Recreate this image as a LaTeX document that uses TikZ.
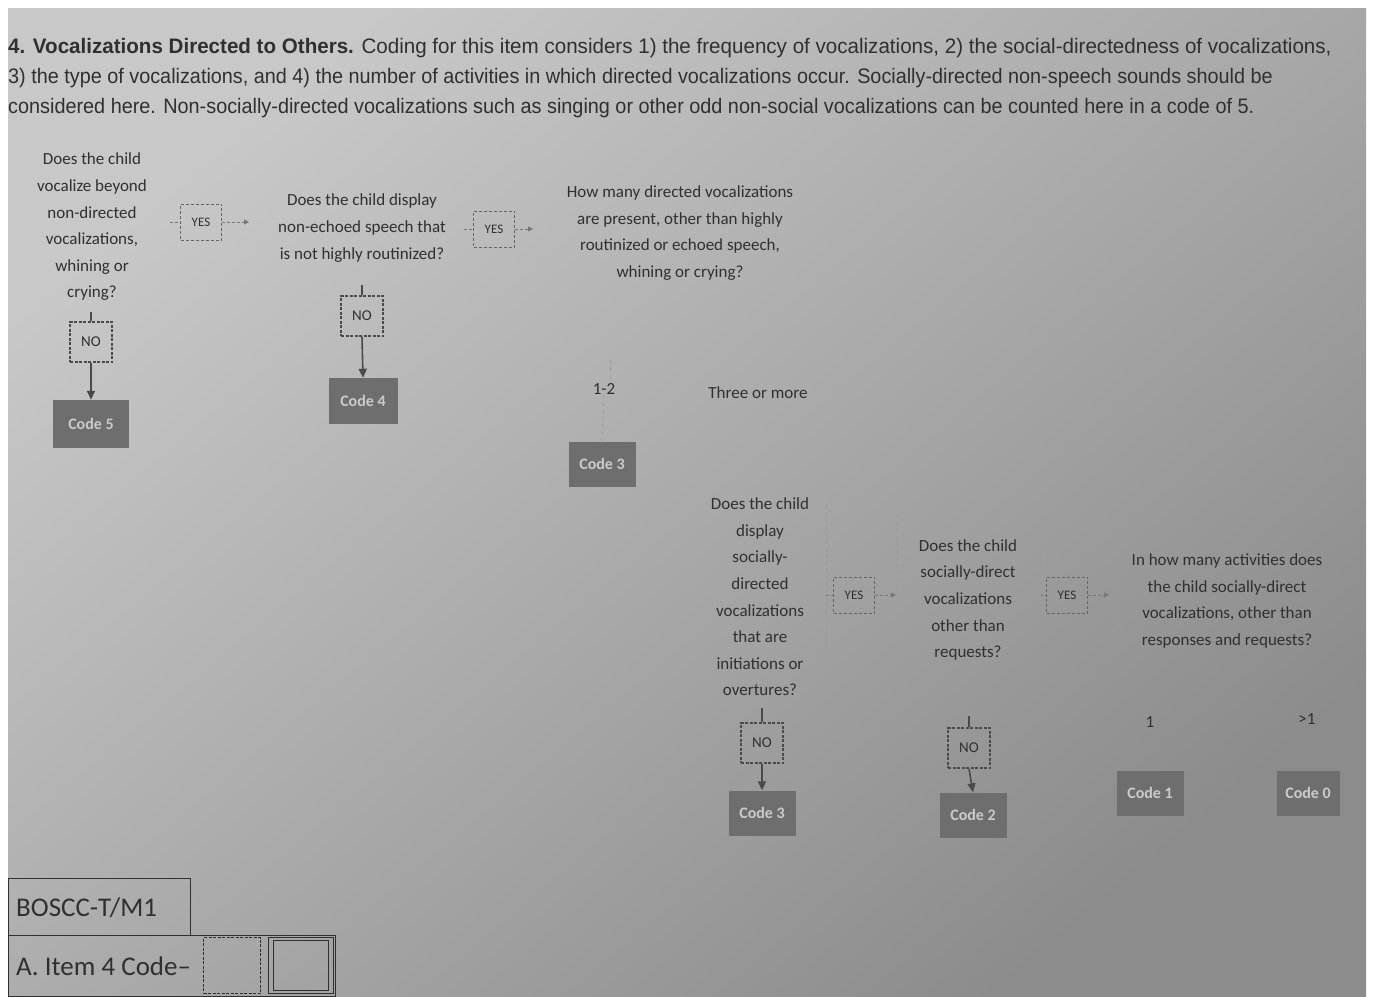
\documentclass[tikz,border=0pt]{standalone}
\usepackage{fontspec}
\setmainfont{Carlito}
\newfontfamily\hdrfont{Liberation Sans}
\usetikzlibrary{arrows.meta}
\definecolor{ink}{HTML}{303030}
\definecolor{boxline}{HTML}{4A4A4A}
\definecolor{codegray}{HTML}{6E6E6E}
\definecolor{codetext}{HTML}{CACACA}
\definecolor{faint}{HTML}{9A9A9A}
\definecolor{bgtop}{HTML}{C8C8C8}
\definecolor{bgbot}{HTML}{8C8C8C}
\begin{document}
\begin{tikzpicture}[x=1pt,y=-1pt,
  qtext/.style={align=center, font=\fontsize{17}{26.6}\selectfont, text=ink, inner sep=2pt},
  lbl/.style={font=\fontsize{17}{20}\selectfont, text=ink, inner sep=1pt},
  nobox/.style={draw=boxline, dash pattern=on 3pt off 1.5pt, line width=1.4pt, text=ink,
     font=\fontsize{15}{15}\selectfont, minimum width=42, minimum height=40, inner sep=0},
  yesbox/.style={draw=boxline!85, dash pattern=on 3pt off 2pt, line width=1pt, text=ink,
     font=\fontsize{13}{13}\selectfont, minimum width=41, minimum height=36, inner sep=0},
  codebox/.style={fill=codegray, text=codetext, font=\fontsize{16}{16}\selectfont\bfseries,
     minimum width=67, minimum height=45, inner sep=0},
  noline/.style={draw=boxline, line width=1.6pt},
  noarrow/.style={draw=boxline, line width=1.6pt, -{Triangle[length=9pt,width=8pt]}},
  yesline/.style={draw=boxline!75, line width=0.8pt, dash pattern=on 3pt off 2pt},
  yesarrow/.style={draw=boxline!75, line width=0.8pt, dash pattern=on 3pt off 2pt, -{Triangle[length=5pt,width=5pt]}},
  faintline/.style={draw=faint, line width=0.7pt, dash pattern=on 4pt off 3pt},
  hdr/.style={anchor=base west, inner sep=0, text=ink, font=\hdrfont\fontsize{21}{21}\selectfont}
]
\useasboundingbox (0,0) rectangle (1373,996);
\fill[white] (0,0) rectangle (1373,996);
\shade[top color=bgtop, bottom color=bgbot, shading angle=40] (8,8) rectangle (1366,996);

% header
\node[hdr] (h1) at (8,53) {\scalebox{0.98}[1]{\textbf{4. Vocalizations Directed to Others.} Coding for this item considers 1) the frequency of vocalizations, 2) the social-directedness of vocalizations,}};
\node[hdr] (h2) at (8,83) {\scalebox{0.944}[1]{3) the type of vocalizations, and 4) the number of activities in which directed vocalizations occur. Socially-directed non-speech sounds should be}};
\node[hdr] (h3) at (8,113) {\scalebox{0.945}[1]{considered here. Non-socially-directed vocalizations such as singing or other odd non-social vocalizations can be counted here in a code of 5.}};

% questions
\node[qtext] (q1) at (92,227) {Does the child\\vocalize beyond\\non-directed\\vocalizations,\\whining or\\crying?};
\node[qtext] (q2) at (362,228) {Does the child display\\non-echoed speech that\\is not highly routinized?};
\node[qtext] (q3) at (680,233) {How many directed vocalizations\\are present, other than highly\\routinized or echoed speech,\\whining or crying?};
\node[qtext] (q4) at (760,597) {Does the child\\display\\socially-\\directed\\vocalizations\\that are\\initiations or\\overtures?};
\node[qtext] (q5) at (968,600) {Does the child\\socially-direct\\vocalizations\\other than\\requests?};
\node[qtext] (q6) at (1227,601) {In how many activities does\\the child socially-direct\\vocalizations, other than\\responses and requests?};

% YES boxes
\node[yesbox] (y1) at (201,222) {YES};
\node[yesbox] (y2) at (494,229) {YES};
\node[yesbox] (y3) at (854,595) {YES};
\node[yesbox] (y4) at (1067,595) {YES};

% NO boxes
\node[nobox] (n1) at (91,342) {NO};
\node[nobox] (n2) at (362,316) {NO};
\node[nobox] (n3) at (762,743) {NO};
\node[nobox] (n4) at (969,748) {NO};

% code boxes
\node[codebox, minimum width=76, minimum height=48] (c5) at (91,424) {Code 5};
\node[codebox, minimum width=69, minimum height=46] (c4) at (363,401) {Code 4};
\node[codebox] (c3a) at (602,464) {Code 3};
\node[codebox] (c3b) at (762,813) {Code 3};
\node[codebox] (c2) at (973,815) {Code 2};
\node[codebox] (c1) at (1150,793) {Code 1};
\node[codebox, minimum width=63] (c0) at (1308,793) {Code 0};

% answer labels
\node[lbl] (a12) at (604,389) {1-2};
\node[lbl] (a3m) at (758,393) {Three or more};
\node[lbl] (a1) at (1150,722) {1};
\node[lbl] (agt1) at (1307,719) {>1};

% stub coordinates
\coordinate (t1) at (91,312);
\coordinate (t2) at (362,285);
\coordinate (t3) at (762,708);
\coordinate (t4) at (969,716);
\coordinate (y1l) at (170,222);
\coordinate (y1r) at (249,222);
\coordinate (y2l) at (464,229);
\coordinate (y2r) at (533,229);
\coordinate (y3l) at (826,595);
\coordinate (y3r) at (896,595);
\coordinate (y4l) at (1040,595);
\coordinate (y4r) at (1109,595);
\coordinate (q3s) at (610,360);

% NO connectors
\draw[noline] (t1) -- (n1.north);
\draw[noarrow] (n1.south) -- (c5.north);
\draw[noline] (t2) -- (n2.north);
\draw[noarrow] (n2.south) -- (c4.north);
\draw[noline] (t3) -- (n3.north);
\draw[noarrow] (n3.south) -- (c3b.north);
\draw[noline] (t4) -- (n4.north);
\draw[noarrow] (n4.south) -- (c2.north);

% YES connectors
\draw[yesline] (y1l) -- (y1.west);
\draw[yesarrow] (y1.east) -- (y1r);
\draw[yesline] (y2l) -- (y2.west);
\draw[yesarrow] (y2.east) -- (y2r);
\draw[yesline] (y3l) -- (y3.west);
\draw[yesarrow] (y3.east) -- (y3r);
\draw[yesline] (y4l) -- (y4.west);
\draw[yesarrow] (y4.east) -- (y4r);

% faint lines
\draw[faintline] (q3s) -- (a12.north -| q3s);
\draw[faintline] (a12.south) -- (c3a.north);
\coordinate (v1a) at (826,505); \coordinate (v1b) at (826,650);
\coordinate (v2a) at (897,515); \coordinate (v2b) at (897,600);
\coordinate (v3a) at (1040,545); \coordinate (v3b) at (1040,640);
\coordinate (v4a) at (1112,530); \coordinate (v4b) at (1112,640);
\draw[faintline] (v1a) -- (v1b);
\draw[faintline] (v2a) -- (v2b);
\draw[faintline] (v3a) -- (v3b);
\draw[faintline] (v4a) -- (v4b);

% bottom code form
\node[draw=ink, line width=1.4pt, minimum width=182, minimum height=57, inner sep=0, anchor=north west] (bos) at (8,878) {};
\node[anchor=west, inner sep=0, text=ink, font=\fontsize{27}{27}\selectfont] (bost) at (16,908) {BOSCC-T/M1};
\node[draw=ink, line width=1.4pt, minimum width=327, minimum height=61, inner sep=0, anchor=north west] (itm) at (8,935) {};
\node[anchor=west, inner sep=0, text=ink, font=\fontsize{27}{27}\selectfont] (itmt) at (16,966) {A. Item 4 Code--};
\node[draw=ink, line width=1.2pt, dash pattern=on 3pt off 1.5pt, minimum width=57, minimum height=56, inner sep=0, anchor=north west] (cb1) at (203,937) {};
\node[draw=ink, line width=1.4pt, minimum width=65, minimum height=56, inner sep=0, anchor=north west] (cb2) at (268,937) {};
\node[draw=ink, line width=1.0pt, minimum width=55, minimum height=50, inner sep=0] (cb2i) at (cb2.center) {};
\end{tikzpicture}
\end{document}
